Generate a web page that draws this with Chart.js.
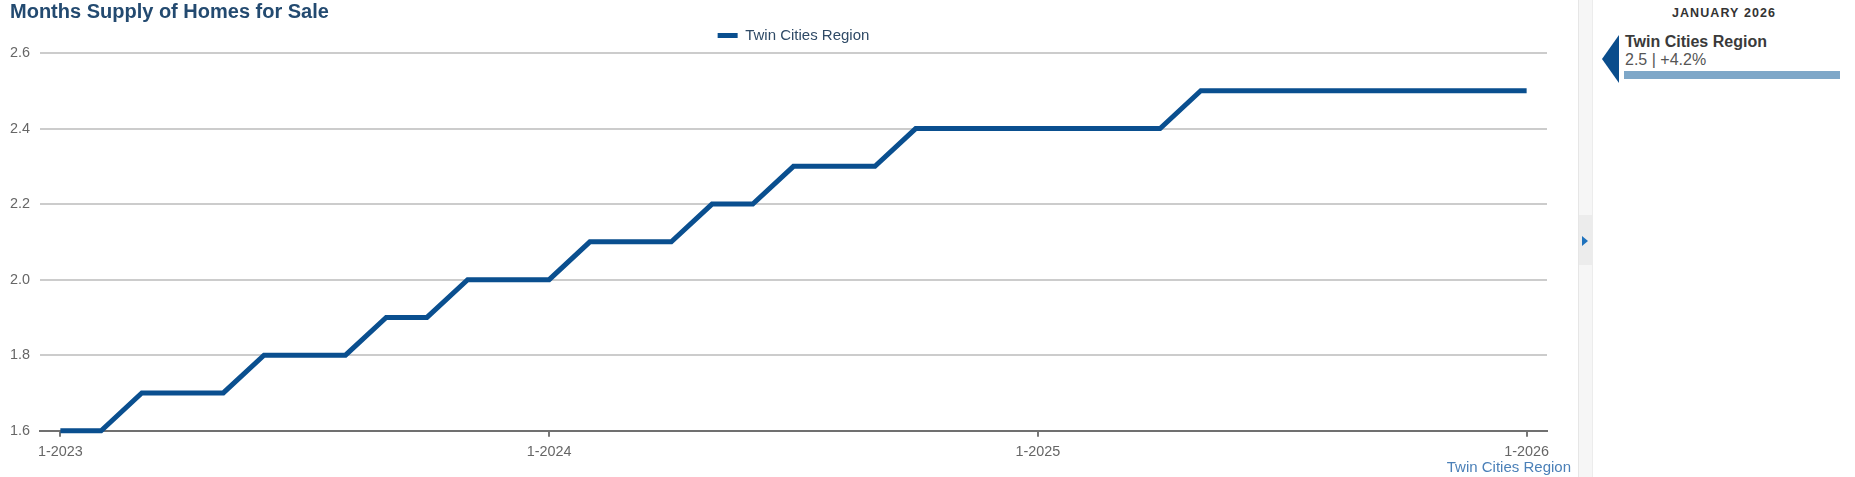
<!DOCTYPE html>
<html>
<head>
<meta charset="utf-8">
<script src="https://cdn.jsdelivr.net/npm/chart.js@4"></script>
<style>
  html, body { margin: 0; padding: 0; background: #fff; }
  body { width: 1855px; height: 477px; position: relative; overflow: hidden; font-family: "Liberation Sans", Arial, sans-serif; }
  #wrap { position: absolute; left: 0; top: 0; width: 1578px; height: 477px; }
  #xtitle { position: absolute; right: calc(1855px - 1571px); top: 458px; font-size: 15px; line-height: 17px; color: #4b80b8; white-space: nowrap; }
  #rail { position: absolute; left: 1578px; top: 0; width: 13px; height: 477px; background: #f6f6f6; border-left: 1px solid #e6e6e6; border-right: 1px solid #ececec; }
  #railbtn { position: absolute; left: 0; top: 215px; width: 13px; height: 50px; background: #ececec; }
  #railtri { position: absolute; left: 3px; top: 21px; width: 0; height: 0; border-top: 5px solid transparent; border-bottom: 5px solid transparent; border-left: 6px solid #1f72bd; }
  #side { position: absolute; left: 1593px; top: 0; width: 262px; height: 477px; }
  #month { position: absolute; left: 0; width: 262px; top: 5px; text-align: center; font-weight: bold; font-size: 12.5px; line-height: 16px; letter-spacing: 1.1px; color: #333; }
  #ptr { position: absolute; left: 9px; top: 35px; width: 0; height: 0; border-top: 24px solid transparent; border-bottom: 24px solid transparent; border-right: 17px solid #0a4d8c; }
  #sname { position: absolute; left: 32px; top: 33px; font-weight: bold; font-size: 16px; line-height: 18px; color: #3a3a3a; white-space: nowrap; }
  #sval { position: absolute; left: 32px; top: 51px; font-size: 16px; line-height: 18px; color: #555; white-space: nowrap; }
  #sbar { position: absolute; left: 31px; top: 71px; width: 216px; height: 8px; background: #7ea7c8; }
</style>
</head>
<body>
<div id="wrap"><canvas id="c"></canvas></div>
<div id="xtitle">Twin Cities Region</div>
<div id="rail"><div id="railbtn"><div id="railtri"></div></div></div>
<div id="side">
  <div id="month">JANUARY 2026</div>
  <div id="ptr"></div>
  <div id="sname">Twin Cities Region</div>
  <div id="sval">2.5 | +4.2%</div>
  <div id="sbar"></div>
</div>
<script>
const chartTitle = "Months Supply of Homes for Sale";
const seriesName = "Twin Cities Region";
const categories = [
  "1-2023","2-2023","3-2023","4-2023","5-2023","6-2023","7-2023","8-2023","9-2023","10-2023","11-2023","12-2023",
  "1-2024","2-2024","3-2024","4-2024","5-2024","6-2024","7-2024","8-2024","9-2024","10-2024","11-2024","12-2024",
  "1-2025","2-2025","3-2025","4-2025","5-2025","6-2025","7-2025","8-2025","9-2025","10-2025","11-2025","12-2025",
  "1-2026"
];
const supplyValues = [
  1.6,1.6,1.7,1.7,1.7,1.8,1.8,1.8,1.9,1.9,2.0,2.0,
  2.0,2.1,2.1,2.1,2.2,2.2,2.3,2.3,2.3,2.4,2.4,2.4,
  2.4,2.4,2.4,2.4,2.5,2.5,2.5,2.5,2.5,2.5,2.5,2.5,
  2.5
];
const xTickLabels = ["1-2023","1-2024","1-2025","1-2026"];
const yTicks = [1.6, 1.8, 2.0, 2.2, 2.4, 2.6];

const FONT = '"Liberation Sans", Arial, sans-serif';
Chart.defaults.font.family = FONT;

const centerLegend = {
  id: 'centerLegend',
  afterLayout(chart) {
    const lg = chart.legend, ca = chart.chartArea;
    if (!lg || !ca) return;
    const shift = (ca.left + ca.right) / 2 - (lg.left + lg.right) / 2;
    lg.left += shift; lg.right += shift;
  }
};

new Chart(document.getElementById('c'), {
  type: 'line',
  data: {
    labels: categories,
    datasets: [{
      label: seriesName,
      data: supplyValues,
      borderColor: '#0a4f8f',
      backgroundColor: '#0a4f8f',
      borderWidth: 5,
      pointRadius: 0,
      pointHoverRadius: 0,
      tension: 0,
      fill: false,
      clip: false
    }]
  },
  plugins: [centerLegend],
  options: {
    responsive: true,
    maintainAspectRatio: false,
    animation: false,
    events: [],
    layout: { padding: { left: 10, right: 31, top: 0, bottom: 9 } },
    plugins: {
      title: {
        display: true,
        text: chartTitle,
        align: 'start',
        color: '#234a70',
        font: { size: 20, weight: 'bold', family: FONT },
        padding: { top: 0, bottom: -4 }
      },
      legend: {
        display: true,
        position: 'top',
        align: 'center',
        labels: {
          boxWidth: 20,
          boxHeight: 5,
          color: '#2f4a66',
          font: { size: 15, family: FONT },
          padding: 8,
          generateLabels: (chart) => Chart.defaults.plugins.legend.labels.generateLabels(chart).map(l => Object.assign(l, { lineWidth: 0, strokeStyle: 'rgba(0,0,0,0)' }))
        }
      },
      tooltip: { enabled: false }
    },
    scales: {
      x: {
        type: 'category',
        offset: true,
        afterFit: (s) => { s.paddingLeft = 0; s.paddingRight = 0; },
        grid: {
          display: true,
          drawOnChartArea: false,
          drawTicks: true,
          tickLength: 6,
          lineWidth: 2,
          color: (ctx) => (ctx.tick && xTickLabels.includes(categories[ctx.index]) ? '#777777' : 'rgba(0,0,0,0)')
        },
        border: { display: true, color: '#707070', width: 2 },
        ticks: {
          autoSkip: false,
          maxRotation: 0,
          padding: 7,
          color: '#666666',
          font: { size: 14.4, family: FONT },
          callback: function (v, i) { const l = categories[i]; return xTickLabels.includes(l) ? l : ''; }
        }
      },
      y: {
        min: yTicks[0],
        max: yTicks[yTicks.length - 1],
        afterBuildTicks: (s) => { s.ticks = yTicks.map(v => ({ value: v })); },
        afterFit: (s) => { s.width = 30; },
        grid: { color: '#cccccc', lineWidth: 2, drawTicks: false },
        border: { display: false },
        ticks: {
          padding: 10,
          color: '#666666',
          font: { size: 14.4, family: FONT },
          callback: (v) => Number(v).toFixed(1)
        }
      }
    }
  }
});
</script>
</body>
</html>
